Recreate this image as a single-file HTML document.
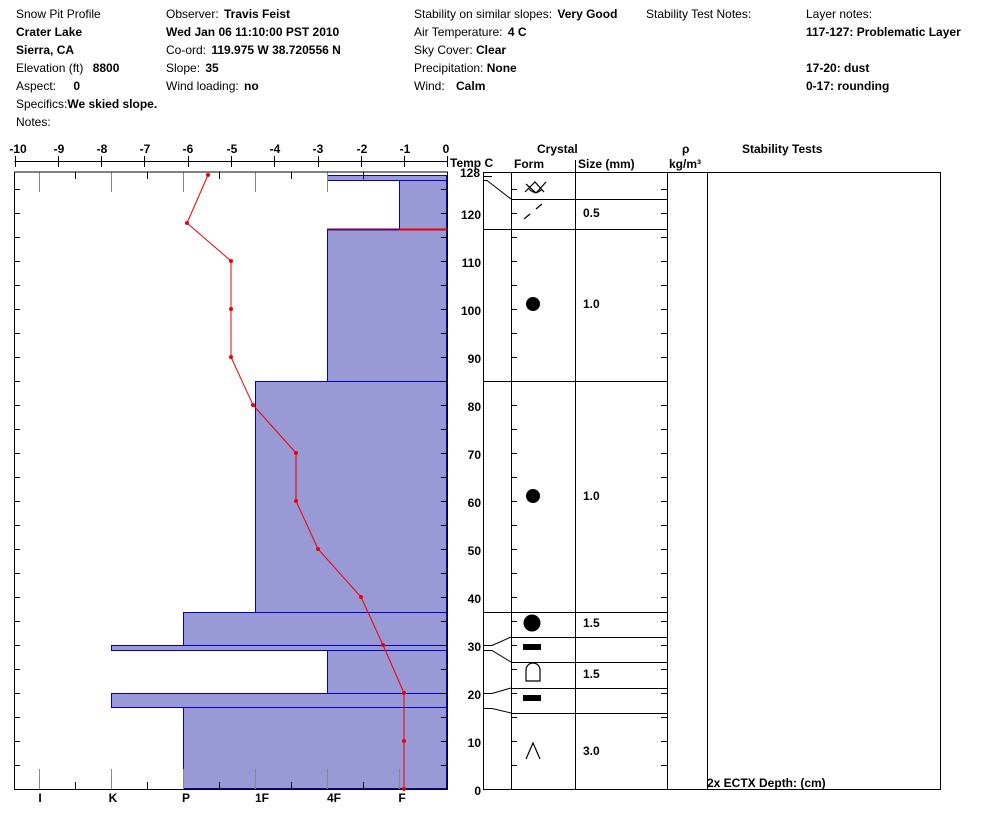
<!DOCTYPE html>
<html><head><meta charset="utf-8"><style>
body{margin:0;background:#fff;}
svg{display:block;font-family:"Liberation Sans",Arial,sans-serif;font-size:12px;}
.b{font-weight:bold;}
</style></head><body>
<svg width="994" height="826" viewBox="0 0 994 826" xmlns="http://www.w3.org/2000/svg">
<g fill="#000">
<text x="16" y="18">Snow Pit Profile</text>
<text x="16" y="36" class="b">Crater Lake</text>
<text x="16" y="54" class="b">Sierra, CA</text>
<text x="16" y="72">Elevation (ft) <tspan class="b" dx="6">8800</tspan></text>
<text x="16" y="90">Aspect: <tspan class="b" dx="14">0</tspan></text>
<text x="16" y="108">Specifics:<tspan class="b">We skied slope.</tspan></text>
<text x="16" y="126">Notes:</text>
<text x="166" y="18">Observer: <tspan class="b" dx="2">Travis Feist</tspan></text>
<text x="166" y="36" class="b">Wed Jan 06 11:10:00 PST 2010</text>
<text x="166" y="54">Co-ord: <tspan class="b" dx="2">119.975 W 38.720556 N</tspan></text>
<text x="166" y="72">Slope: <tspan class="b" dx="2">35</tspan></text>
<text x="166" y="90">Wind loading: <tspan class="b" dx="2">no</tspan></text>
<text x="414" y="18">Stability on similar slopes: <tspan class="b" dx="2">Very Good</tspan></text>
<text x="414" y="36">Air Temperature: <tspan class="b" dx="2">4 C</tspan></text>
<text x="414" y="54">Sky Cover: <tspan class="b">Clear</tspan></text>
<text x="414" y="72">Precipitation: <tspan class="b">None</tspan></text>
<text x="414" y="90">Wind: <tspan class="b" dx="8">Calm</tspan></text>
<text x="646" y="18">Stability Test Notes:</text>
<text x="806" y="18">Layer notes:</text>
<text x="806" y="36" class="b">117-127: Problematic Layer</text>
<text x="806" y="72" class="b">17-20: dust</text>
<text x="806" y="90" class="b">0-17: rounding</text>
</g>
<!-- hardness bars -->
<g fill="#9999d6" stroke="#0000cc" stroke-width="1">
<rect x="183.5" y="707.5" width="263" height="81"/>
<rect x="111.5" y="693.5" width="335" height="14"/>
<rect x="327.5" y="650.5" width="119" height="43"/>
<rect x="111.5" y="645.5" width="335" height="5"/>
<rect x="183.5" y="612.5" width="263" height="33"/>
<rect x="255.5" y="381.5" width="191" height="231"/>
<rect x="327.5" y="229.5" width="119" height="152"/>
<rect x="399.5" y="180.5" width="47" height="49"/>
<rect x="327.5" y="175.5" width="119" height="5"/>
</g>
<line x1="327" y1="229.5" x2="399" y2="229.5" stroke="#660066" stroke-width="2"/>
<line x1="399" y1="229.5" x2="447" y2="229.5" stroke="#ee0000" stroke-width="2"/>
<!-- grid ticks -->
<g stroke="#888" stroke-width="1">
<line x1="39.5" y1="172" x2="39.5" y2="192"/><line x1="111.5" y1="172" x2="111.5" y2="192"/><line x1="183.5" y1="172" x2="183.5" y2="192"/><line x1="255.5" y1="172" x2="255.5" y2="192"/><line x1="327.5" y1="172" x2="327.5" y2="192"/>
<line x1="39.5" y1="769" x2="39.5" y2="789"/><line x1="111.5" y1="769" x2="111.5" y2="789"/><line x1="183.5" y1="769" x2="183.5" y2="789"/><line x1="255.5" y1="769" x2="255.5" y2="789"/><line x1="327.5" y1="769" x2="327.5" y2="789"/><line x1="399.5" y1="769" x2="399.5" y2="789"/>
</g>
<g stroke="#000" stroke-width="1">
<line x1="75.5" y1="172" x2="75.5" y2="179"/><line x1="147.5" y1="172" x2="147.5" y2="179"/><line x1="219.5" y1="172" x2="219.5" y2="179"/><line x1="291.5" y1="172" x2="291.5" y2="179"/><line x1="363.5" y1="172" x2="363.5" y2="179"/>
<line x1="75.5" y1="782" x2="75.5" y2="789"/><line x1="147.5" y1="782" x2="147.5" y2="789"/><line x1="219.5" y1="782" x2="219.5" y2="789"/><line x1="291.5" y1="782" x2="291.5" y2="789"/><line x1="363.5" y1="782" x2="363.5" y2="789"/>
</g>
<!-- box -->
<polyline points="14.5,172 14.5,789.5 447.5,789.5 447.5,172 14.5,172" fill="none" stroke="#000"/>
<!-- temp axis -->
<g stroke="#000">
<line x1="14.5" y1="161.5" x2="447.5" y2="161.5"/>
<line x1="15.5" y1="156" x2="15.5" y2="167"/><line x1="58.5" y1="156" x2="58.5" y2="167"/><line x1="101.5" y1="156" x2="101.5" y2="167"/><line x1="144.5" y1="156" x2="144.5" y2="167"/><line x1="188.5" y1="156" x2="188.5" y2="167"/><line x1="231.5" y1="156" x2="231.5" y2="167"/><line x1="274.5" y1="156" x2="274.5" y2="167"/><line x1="318.5" y1="156" x2="318.5" y2="167"/><line x1="361.5" y1="156" x2="361.5" y2="167"/><line x1="404.5" y1="156" x2="404.5" y2="167"/><line x1="447.5" y1="156" x2="447.5" y2="167"/>
</g>
<g class="b" text-anchor="middle" fill="#000">
<text x="18" y="153">-10</text><text x="59" y="153">-9</text><text x="102" y="153">-8</text><text x="145" y="153">-7</text><text x="188" y="153">-6</text><text x="232" y="153">-5</text><text x="275" y="153">-4</text><text x="318" y="153">-3</text><text x="362" y="153">-2</text><text x="405" y="153">-1</text><text x="446" y="153">0</text>
<text x="40" y="802">I</text><text x="113" y="802">K</text><text x="186" y="802">P</text><text x="262" y="802">1F</text><text x="334" y="802">4F</text><text x="402" y="802">F</text>
</g>
<text x="450" y="167" class="b" fill="#000">Temp C</text>
<!-- depth ticks & labels -->
<g stroke="#000" id="dt">
<line x1="14" y1="765.5" x2="20" y2="765.5"/><line x1="14" y1="717.5" x2="20" y2="717.5"/><line x1="14" y1="669.5" x2="20" y2="669.5"/><line x1="14" y1="621.5" x2="20" y2="621.5"/><line x1="14" y1="573.5" x2="20" y2="573.5"/><line x1="14" y1="525.5" x2="20" y2="525.5"/><line x1="14" y1="477.5" x2="20" y2="477.5"/><line x1="14" y1="429.5" x2="20" y2="429.5"/><line x1="14" y1="381.5" x2="20" y2="381.5"/><line x1="14" y1="333.5" x2="20" y2="333.5"/><line x1="14" y1="285.5" x2="20" y2="285.5"/><line x1="14" y1="237.5" x2="20" y2="237.5"/><line x1="14" y1="189.5" x2="20" y2="189.5"/>
<line x1="14" y1="741.5" x2="20" y2="741.5"/><line x1="14" y1="693.5" x2="20" y2="693.5"/><line x1="14" y1="645.5" x2="20" y2="645.5"/><line x1="14" y1="597.5" x2="20" y2="597.5"/><line x1="14" y1="549.5" x2="20" y2="549.5"/><line x1="14" y1="501.5" x2="20" y2="501.5"/><line x1="14" y1="453.5" x2="20" y2="453.5"/><line x1="14" y1="405.5" x2="20" y2="405.5"/><line x1="14" y1="357.5" x2="20" y2="357.5"/><line x1="14" y1="309.5" x2="20" y2="309.5"/><line x1="14" y1="261.5" x2="20" y2="261.5"/><line x1="14" y1="213.5" x2="20" y2="213.5"/>
</g>
<use href="#dt" x="427"/>
<use href="#dt" x="497"/>
<use href="#dt" x="647"/>
<g class="b" text-anchor="end" fill="#000">
<text x="481" y="795">0</text><text x="481" y="747">10</text><text x="481" y="699">20</text><text x="481" y="651">30</text><text x="481" y="603">40</text><text x="481" y="555">50</text><text x="481" y="507">60</text><text x="481" y="459">70</text><text x="481" y="411">80</text><text x="481" y="363">90</text><text x="481" y="315">100</text><text x="481" y="267">110</text><text x="481" y="219">120</text><text x="480" y="177">128</text>
</g>
<!-- temperature profile -->
<polyline fill="none" stroke="#ee0000" stroke-width="1" points="208,175 187,223 231,261 231,309 231,357 253,405 296,453 296,501 318,549 361,597 383,645 404,693 404,741 404,789"/>
<g fill="#ee0000">
<circle cx="208" cy="175" r="2"/><circle cx="187" cy="223" r="2"/><circle cx="231" cy="261" r="2"/><circle cx="231" cy="309" r="2"/><circle cx="231" cy="357" r="2"/><circle cx="253" cy="405" r="2"/><circle cx="296" cy="453" r="2"/><circle cx="296" cy="501" r="2"/><circle cx="318" cy="549" r="2"/><circle cx="361" cy="597" r="2"/><circle cx="383" cy="645" r="2"/><circle cx="404" cy="693" r="2"/><circle cx="404" cy="741" r="2"/><circle cx="404" cy="789" r="2"/>
</g>
<!-- right table -->
<g fill="#000" class="b">
<text x="537" y="153">Crystal</text>
<text x="514" y="168">Form</text>
<text x="578" y="168">Size (mm)</text>
<text x="682" y="153">ρ</text>
<text x="669" y="168">kg/m³</text>
<text x="742" y="153">Stability Tests</text>
<text x="707" y="787">2x ECTX  Depth: (cm)</text>
</g>
<g stroke="#000" fill="none">
<rect x="483.5" y="172.5" width="457" height="617"/>
<line x1="511.5" y1="172" x2="511.5" y2="789"/>
<line x1="575.5" y1="172" x2="575.5" y2="789"/>
<line x1="667.5" y1="172" x2="667.5" y2="789"/>
<line x1="707.5" y1="172" x2="707.5" y2="789"/>
<line x1="575.5" y1="160" x2="575.5" y2="172"/>
<line x1="511" y1="199.5" x2="667" y2="199.5"/>
<line x1="511" y1="229.5" x2="667" y2="229.5"/>
<line x1="511" y1="381.5" x2="667" y2="381.5"/>
<line x1="511" y1="612.5" x2="667" y2="612.5"/>
<line x1="511" y1="637.5" x2="667" y2="637.5"/>
<line x1="511" y1="662.5" x2="667" y2="662.5"/>
<line x1="511" y1="688.5" x2="667" y2="688.5"/>
<line x1="511" y1="713.5" x2="667" y2="713.5"/>
<polyline points="483,176.5 492,176.5"/>
<polyline points="483,180.5 487,180.5 511,199"/>
<polyline points="483,229.5 511,229.5"/>
<polyline points="483,381.5 511,381.5"/>
<polyline points="483,612.5 511,612.5"/>
<polyline points="483,645.5 492,645.5 511,637"/>
<polyline points="483,650.5 492,650.5 511,662"/>
<polyline points="483,693.5 492,693.5 511,688"/>
<polyline points="483,708.5 492,708.5 511,713"/>
</g>
<!-- crystal symbols -->
<g stroke="#000" fill="none" stroke-width="1.2">
<path d="M526,184 L536,193 L546,182 M525,192 L535,182 L544,192 M529,189 Q536,196 542,189"/>
<line x1="524" y1="219" x2="530" y2="214"/><line x1="536" y1="209" x2="542" y2="204"/>
<path d="M526,681 L526,670 A7,7 0 0 1 540,670 L540,681 Z"/>
<path d="M526,759 L533,743 L540,759"/>
</g>
<g fill="#000">
<circle cx="533" cy="304" r="7"/>
<circle cx="533" cy="496" r="7"/>
<circle cx="532" cy="623" r="8.5"/>
<rect x="523" y="644" width="18" height="6"/>
<rect x="523" y="695" width="18" height="6"/>
</g>
<g fill="#000" class="b">
<text x="583" y="217">0.5</text>
<text x="583" y="308">1.0</text>
<text x="583" y="500">1.0</text>
<text x="583" y="627">1.5</text>
<text x="583" y="678">1.5</text>
<text x="583" y="755">3.0</text>
</g>
</svg>
</body></html>
